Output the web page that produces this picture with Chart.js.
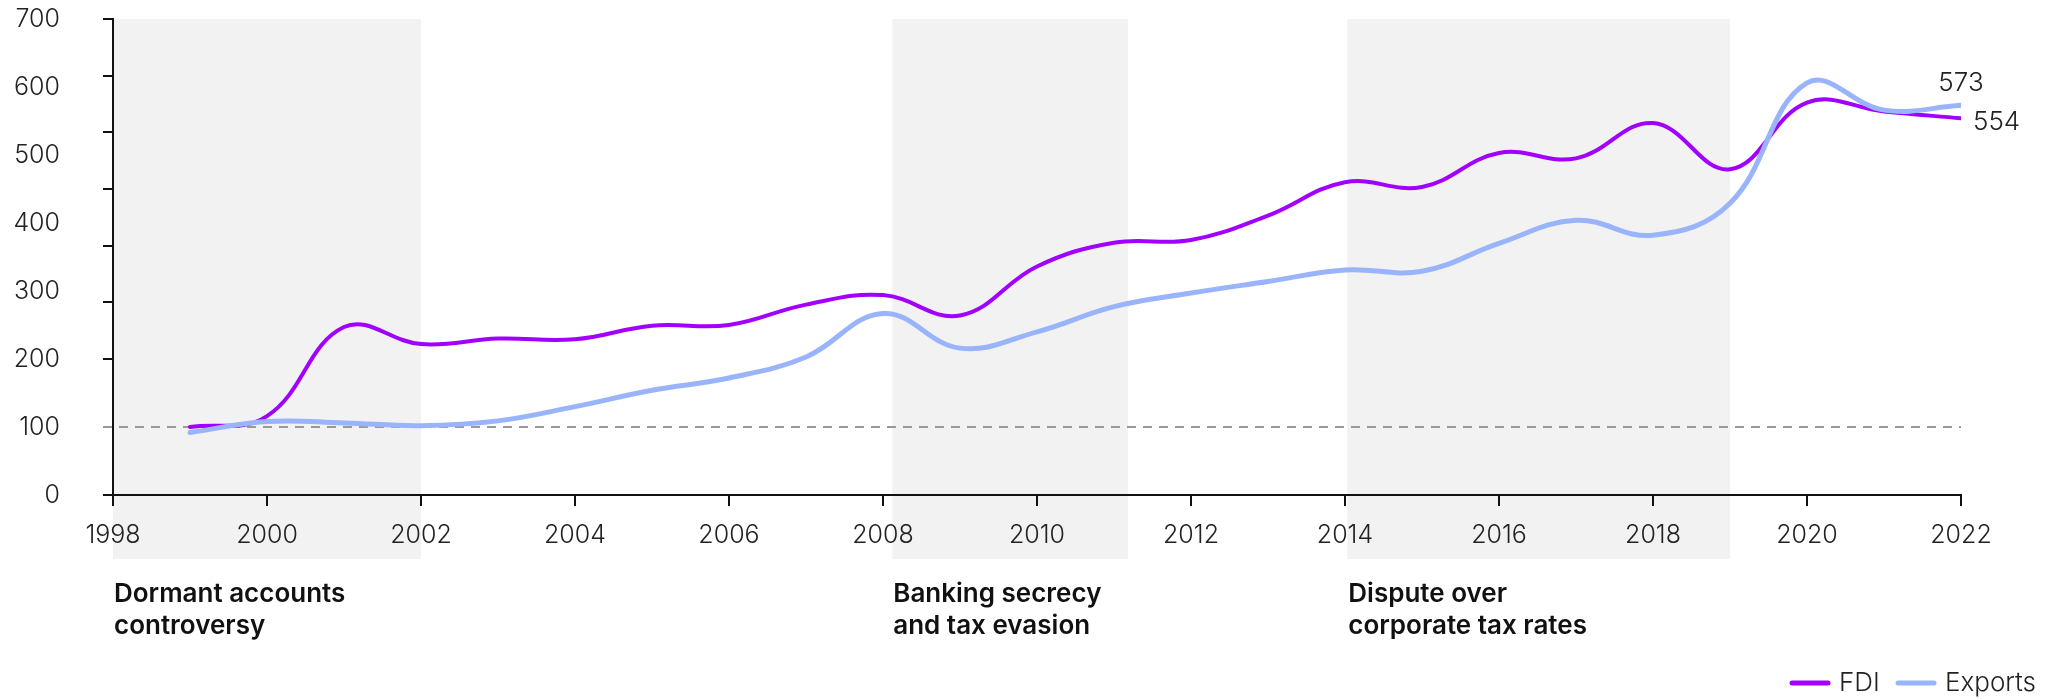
<!DOCTYPE html>
<html>
<head>
<meta charset="utf-8">
<script src="https://cdn.jsdelivr.net/npm/chart.js@4.4.1/dist/chart.umd.min.js"></script>
<style>
  html, body { margin: 0; padding: 0; background: #fff; }
  #myChart { display: block; }
</style>
</head>
<body>
<canvas id="myChart" width="2054" height="699"></canvas>
<script>
// data (index, 1999 = 100)
const years = [1999, 2000, 2001, 2002, 2003, 2004, 2005, 2006, 2007, 2008, 2009, 2010,
               2011, 2012, 2013, 2014, 2015, 2016, 2017, 2018, 2019, 2020, 2021, 2022];
const fdi = [100, 116, 247, 222, 230, 229, 249, 250, 280, 294, 264, 336,
             371, 375, 411, 460, 453, 503, 495, 547, 479, 577, 564, 554];
const exportsIdx = [92, 108, 106, 102, 109, 130, 154, 172, 203, 267, 216, 240,
                    277, 297, 314, 331, 329, 370, 404, 382, 429, 606, 566, 573];

const seriesNames = ['FDI', 'Exports'];
const seriesColors = ['#a100ff', '#99b4fb'];

// shaded periods and their captions
const bandStart = [1998, 2008.12, 2014.03];
const bandEnd = [2002, 2011.18, 2019];
const bandLabels = [
  ['Dormant accounts', 'controversy'],
  ['Banking secrecy', 'and tax evasion'],
  ['Dispute over', 'corporate tax rates']
];

const baseline = 100;
const INK = '#222';

function toPoints(vals) {
  let pts = [];
  for (let i = 0; i < years.length; i++) {
    pts.push({ x: years[i], y: vals[i] });
  }
  return pts;
}

const decor = {
  id: 'decor',
  beforeDraw(chart) {
    const { ctx, scales: { x, y } } = chart;
    const top = y.getPixelForValue(700);
    const bottom = y.getPixelForValue(0) + 64;
    ctx.save();
    ctx.fillStyle = '#f2f2f2';
    for (let i = 0; i < bandStart.length; i++) {
      let x0 = x.getPixelForValue(bandStart[i]);
      let x1 = x.getPixelForValue(bandEnd[i]);
      ctx.fillRect(x0, top, x1 - x0, bottom - top);
    }
    ctx.restore();
  },
  beforeDatasetsDraw(chart) {
    const { ctx, scales: { x, y } } = chart;
    const py = Math.round(y.getPixelForValue(baseline));
    ctx.save();
    ctx.strokeStyle = '#9a9a94';
    ctx.lineWidth = 2;
    ctx.setLineDash([9, 7]);
    ctx.beginPath();
    ctx.moveTo(x.left - 10, py);
    ctx.lineTo(x.getPixelForValue(2022), py);
    ctx.stroke();
    ctx.restore();
  },
  afterDraw(chart) {
    const { ctx, scales: { x, y } } = chart;
    ctx.save();

    // the odd tick marks on the y axis (7 evenly spaced from 700 down to 200, plus 0)
    ctx.strokeStyle = '#111';
    ctx.lineWidth = 2;
    let tickVals = [0];
    for (let i = 0; i <= 6; i++) tickVals.push(700 - i * 500 / 6);
    tickVals.forEach(v => {
      let py = Math.round(y.getPixelForValue(v));
      ctx.beginPath();
      ctx.moveTo(x.left - 10, py);
      ctx.lineTo(x.left, py);
      ctx.stroke();
    });

    // captions under the shaded periods
    const axisY = y.getPixelForValue(0);
    ctx.fillStyle = '#111';
    ctx.font = '600 26px Inter, "Noto Sans", sans-serif';
    ctx.textAlign = 'left';
    ctx.textBaseline = 'alphabetic';
    for (let i = 0; i < bandLabels.length; i++) {
      let bx = x.getPixelForValue(bandStart[i]) + 1;
      ctx.fillText(bandLabels[i][0], bx, axisY + 107);
      ctx.fillText(bandLabels[i][1], bx, axisY + 139);
    }

    // end values
    ctx.fillStyle = INK;
    ctx.font = '300 26px Inter, "Noto Sans", sans-serif';
    ctx.textBaseline = 'middle';
    const fdiMeta = chart.getDatasetMeta(0);
    const expMeta = chart.getDatasetMeta(1);
    const fp = fdiMeta.data[fdiMeta.data.length - 1];
    const ep = expMeta.data[expMeta.data.length - 1];
    ctx.textAlign = 'center';
    ctx.fillText(String(exportsIdx[exportsIdx.length - 1]), ep.x, ep.y - 22);
    ctx.textAlign = 'left';
    ctx.fillText(String(fdi[fdi.length - 1]), fp.x + 12, fp.y + 4);

    // legend, bottom right
    const ly = 683;
    const swatchX = [1792, 1898];
    ctx.lineCap = 'round';
    ctx.lineWidth = 5;
    for (let i = 0; i < seriesNames.length; i++) {
      ctx.strokeStyle = seriesColors[i];
      ctx.beginPath();
      ctx.moveTo(swatchX[i], ly);
      ctx.lineTo(swatchX[i] + 36, ly);
      ctx.stroke();
      ctx.fillText(seriesNames[i], swatchX[i] + 47, ly);
    }
    ctx.restore();
  }
};

let ctx = document.getElementById('myChart').getContext('2d');
let config = {
  type: 'line',
  data: {
    datasets: [{
      label: seriesNames[0],
      data: toPoints(fdi),
      borderColor: seriesColors[0],
      borderWidth: 4,
      borderCapStyle: 'round',
      pointRadius: 0,
      tension: 0.4,
      order: 1
    }, {
      label: seriesNames[1],
      data: toPoints(exportsIdx),
      borderColor: seriesColors[1],
      borderWidth: 5,
      borderCapStyle: 'round',
      pointRadius: 0,
      tension: 0.4,
      order: 0
    }]
  },
  options: {
    responsive: false,
    devicePixelRatio: 1,
    animation: false,
    layout: { padding: { left: 0, right: 93, top: 19, bottom: 144 } },
    plugins: {
      legend: { display: false },
      tooltip: { enabled: false }
    },
    scales: {
      x: {
        type: 'linear',
        min: 1998,
        max: 2022,
        afterFit: s => { s.height = 60; },
        ticks: {
          stepSize: 2,
          padding: 14,
          color: INK,
          font: { family: 'Inter, "Noto Sans", sans-serif', size: 25, weight: 300 },
          maxRotation: 0,
          callback: v => String(v)
        },
        grid: { drawOnChartArea: false, drawTicks: true, tickLength: 11, color: '#111', lineWidth: 2 },
        border: { display: true, color: '#111', width: 2 }
      },
      y: {
        min: 0,
        max: 700,
        afterFit: s => { s.width = 113; s.paddingTop = 0; s.paddingBottom = 0; },
        ticks: {
          stepSize: 100,
          padding: 53,
          color: INK,
          font: { family: 'Inter, "Noto Sans", sans-serif', size: 25, weight: 300 },
          callback: v => String(v)
        },
        grid: { display: true, drawOnChartArea: false, drawTicks: false },
        border: { display: true, color: '#111', width: 2 }
      }
    }
  },
  plugins: [decor]
};
let myChart = new Chart(ctx, config);
</script>
</body>
</html>
